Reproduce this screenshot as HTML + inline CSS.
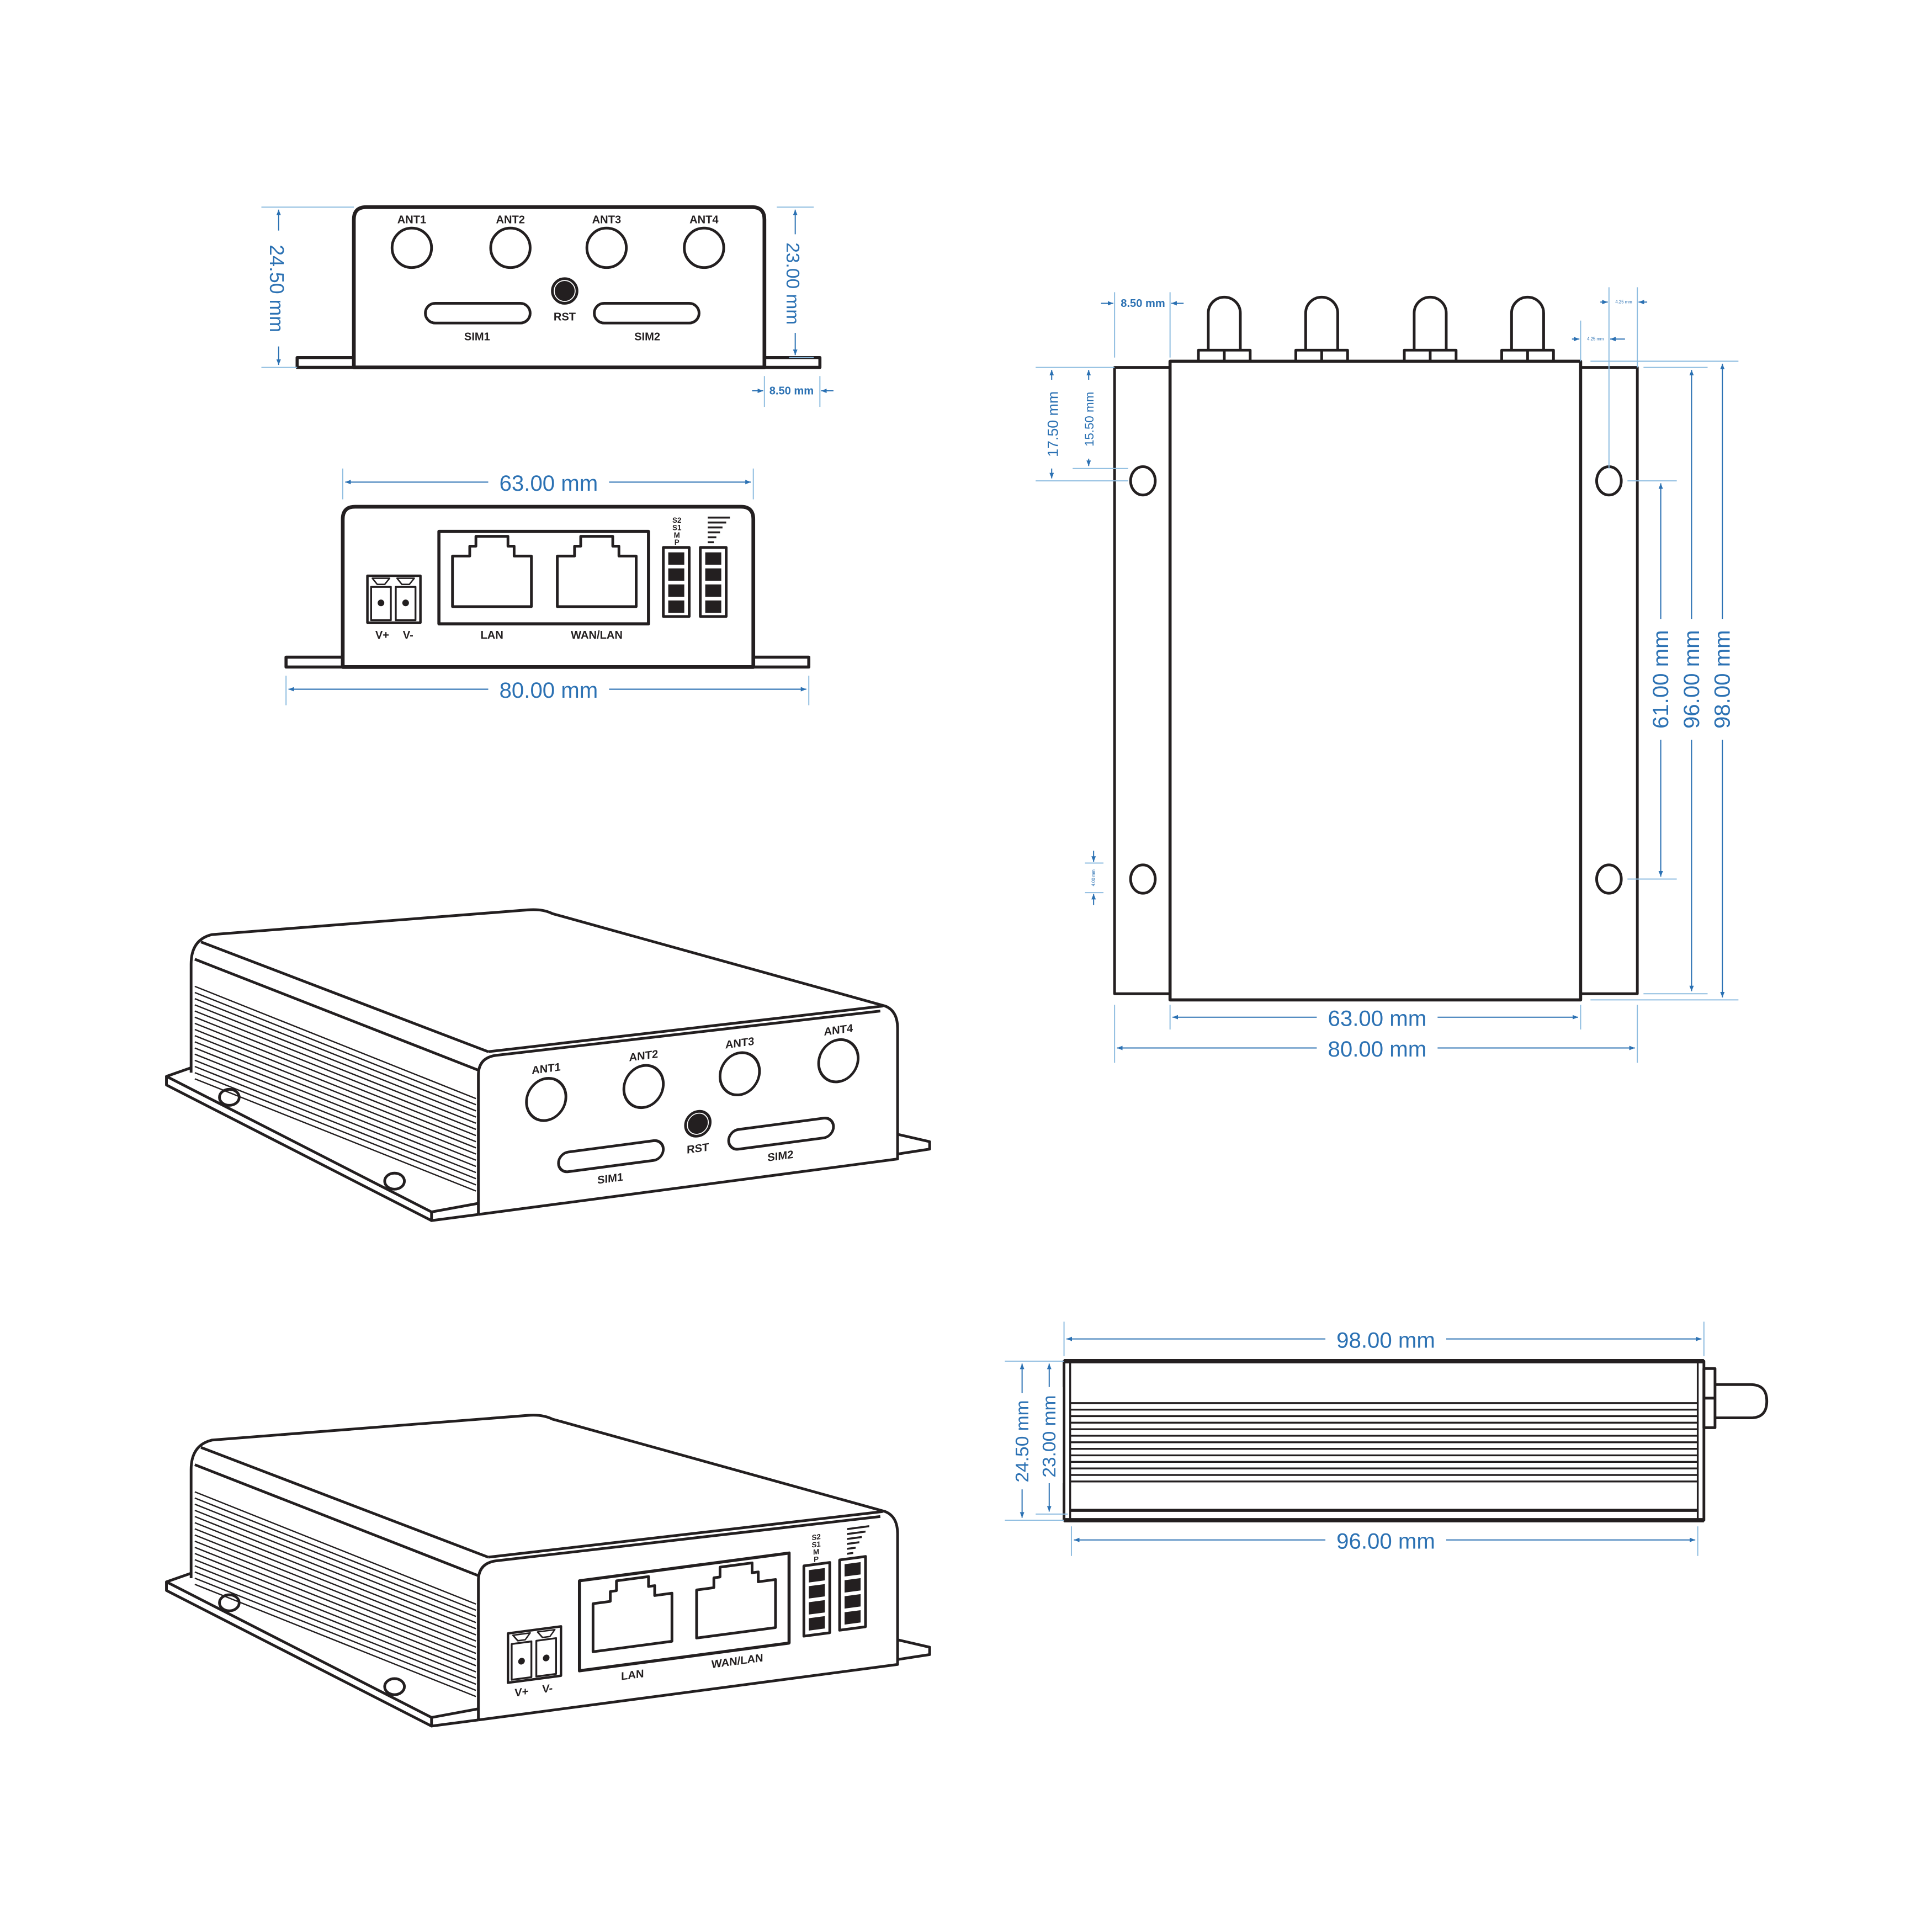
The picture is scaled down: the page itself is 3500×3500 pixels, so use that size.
<!DOCTYPE html>
<html><head><meta charset="utf-8"><style>html,body{margin:0;padding:0;background:#fff}svg{display:block}</style></head>
<body>
<svg xmlns="http://www.w3.org/2000/svg" width="3500" height="3500" viewBox="0 0 1567 1567">
<defs>
<marker id="a" viewBox="0 0 10 10" refX="10" refY="5" markerWidth="5" markerHeight="5" orient="auto-start-reverse"><path d="M0,1 L10,5 L0,9 Z" fill="#2b71b3"/></marker>
</defs>
<rect width="1567" height="1567" fill="#fff"/>
<g fill="none" stroke="#231f20" stroke-width="2.2" stroke-linejoin="round">
<path d="M287,298 L287,178 Q287,168 297,168 L610,168 Q620,168 620,178 L620,298 Z" stroke-width="3"/>
<rect x="241" y="290" width="46" height="8" stroke-width="2.5"/>
<rect x="620" y="290" width="45" height="8" stroke-width="2.5"/>
<ellipse cx="334" cy="201" rx="16" ry="16"/><ellipse cx="414" cy="201" rx="16" ry="16"/>
<ellipse cx="492" cy="201" rx="16" ry="16"/><ellipse cx="571" cy="201" rx="16" ry="16"/>
<circle cx="458" cy="236" r="10"/><circle cx="458" cy="236" r="7" fill="#231f20"/>
<rect x="345" y="246" width="85" height="16" rx="8"/>
<rect x="482" y="246" width="85" height="16" rx="8"/>

<path d="M278,541 L278,421 Q278,411 288,411 L601,411 Q611,411 611,421 L611,541 Z" stroke-width="3"/>
<rect x="232" y="533" width="46" height="8" stroke-width="2.5"/>
<rect x="611" y="533" width="45" height="8" stroke-width="2.5"/>
<rect x="298" y="467" width="43" height="38" stroke-width="2"/>
<rect x="301" y="476" width="16" height="27" stroke-width="1.5"/><rect x="321" y="476" width="16" height="27" stroke-width="1.5"/>
<path d="M302,469 L316,469 L312,474 L306,474 Z M322,469 L336,469 L332,474 L326,474 Z" stroke-width="1.2"/>
<circle cx="309" cy="489" r="1.6" fill="#231f20"/><circle cx="329" cy="489" r="1.6" fill="#231f20"/>
<rect x="356" y="431" width="170" height="75" stroke-width="2.5"/>
<path d="M367,492 L367,451 L381,451 L381,443 L386,443 L386,435 L412,435 L412,443 L417,443 L417,451 L431,451 L431,492 Z"/>
<path d="M452,492 L452,451 L466,451 L466,443 L471,443 L471,435 L497,435 L497,443 L502,443 L502,451 L516,451 L516,492 Z"/>
<rect x="538" y="444" width="21" height="56" stroke-width="2.2"/>
<rect x="568" y="444" width="21" height="56" stroke-width="2.2"/>
<g fill="#231f20" stroke="none">
<rect x="542" y="448" width="13" height="10"/><rect x="542" y="461" width="13" height="10"/><rect x="542" y="474" width="13" height="10"/><rect x="542" y="487" width="13" height="10"/>
<rect x="572" y="448" width="13" height="10"/><rect x="572" y="461" width="13" height="10"/><rect x="572" y="474" width="13" height="10"/><rect x="572" y="487" width="13" height="10"/>
<rect x="574" y="419" width="18" height="1.6"/><rect x="574" y="423" width="15" height="1.6"/><rect x="574" y="427" width="12" height="1.6"/><rect x="574" y="431" width="10" height="1.6"/><rect x="574" y="435" width="7" height="1.6"/><rect x="574" y="439" width="5" height="1.6"/>
</g>

<rect x="904" y="298" width="45" height="508"/>
<rect x="1282" y="298" width="46" height="508"/>
<rect x="949" y="293" width="333" height="518" stroke-width="2.5"/>
<ellipse cx="927" cy="390" rx="10" ry="11.5"/><ellipse cx="927" cy="713" rx="10" ry="11.5"/>
<ellipse cx="1305" cy="390" rx="10" ry="11.5"/><ellipse cx="1305" cy="713" rx="10" ry="11.5"/>
<g id="ant">
<path d="M980,284 L980,254 A13,13 0 0 1 1006,254 L1006,284"/>
<rect x="972" y="284" width="42" height="9"/><line x1="993" y1="284" x2="993" y2="293"/>
</g>
<use href="#ant" transform="translate(79,0)"/>
<use href="#ant" transform="translate(167,0)"/>
<use href="#ant" transform="translate(246,0)"/>

<rect x="863" y="1104" width="519" height="129" stroke-width="2.2"/>
<line x1="863" y1="1104" x2="1382" y2="1104" stroke-width="3.5"/>
<line x1="863" y1="1233" x2="1382" y2="1233" stroke-width="3.5"/>
<line x1="868" y1="1104" x2="868" y2="1233" stroke-width="1.5"/>
<line x1="1377" y1="1104" x2="1377" y2="1233" stroke-width="1.5"/>
<g stroke-width="1.5">
<line x1="868" y1="1138" x2="1377" y2="1138"/><line x1="868" y1="1143.3" x2="1377" y2="1143.3"/><line x1="868" y1="1148.6" x2="1377" y2="1148.6"/><line x1="868" y1="1153.9" x2="1377" y2="1153.9"/><line x1="868" y1="1159.2" x2="1377" y2="1159.2"/><line x1="868" y1="1164.5" x2="1377" y2="1164.5"/><line x1="868" y1="1169.8" x2="1377" y2="1169.8"/><line x1="868" y1="1175.1" x2="1377" y2="1175.1"/><line x1="868" y1="1180.4" x2="1377" y2="1180.4"/><line x1="868" y1="1185.7" x2="1377" y2="1185.7"/><line x1="868" y1="1191" x2="1377" y2="1191"/><line x1="868" y1="1196.3" x2="1377" y2="1196.3"/><line x1="868" y1="1201.6" x2="1377" y2="1201.6"/>
</g>
<line x1="868" y1="1225" x2="1377" y2="1225" stroke-width="2.5"/>
<rect x="1382" y="1110" width="9" height="48"/><line x1="1382" y1="1134" x2="1391" y2="1134"/>
<path d="M1391,1123 L1420,1123 Q1433,1123 1433,1136.5 Q1433,1150 1420,1150 L1391,1150"/>

<g id="isobody">
<path d="M155,870 L155,782 Q155,762 172,758 L428,738 Q440,737 448,741 L718,816 Q728,820 728,834 L728,940 L388,985"/>
<path d="M388,985 L388,872 Q388,858 402,856 L714,820"/>
<line x1="396" y1="853" x2="716" y2="816"/>
<line x1="163" y1="764" x2="396" y2="853"/>
<line x1="158" y1="778" x2="388" y2="868"/>
<g stroke-width="1.1">
<line x1="158" y1="800" x2="386" y2="891"/><line x1="158" y1="805" x2="386" y2="896"/><line x1="158" y1="810" x2="386" y2="901"/><line x1="158" y1="815" x2="386" y2="906"/><line x1="158" y1="820" x2="386" y2="911"/><line x1="158" y1="825" x2="386" y2="916"/><line x1="158" y1="830" x2="386" y2="921"/><line x1="158" y1="835" x2="386" y2="926"/><line x1="158" y1="840" x2="386" y2="931"/><line x1="158" y1="845" x2="386" y2="936"/><line x1="158" y1="850" x2="386" y2="941"/><line x1="158" y1="855" x2="386" y2="946"/><line x1="158" y1="860" x2="386" y2="951"/><line x1="158" y1="865" x2="386" y2="956"/><line x1="158" y1="870" x2="386" y2="961"/><line x1="158" y1="875" x2="386" y2="966"/>
</g>
<path d="M155,866 L135,873 L350,983 L388,976"/>
<path d="M135,873 L135,880 L350,990 L388,985"/>
<line x1="350" y1="983" x2="350" y2="990"/>
<path d="M728,920 L754,926 L754,932 L728,936"/>
<ellipse cx="186" cy="890" rx="8" ry="6.5"/>
<ellipse cx="320" cy="958" rx="8" ry="6.5"/>
</g>
<use href="#isobody" transform="translate(0,410)"/>

<g transform="translate(388,0) skewY(-7.54)">
<ellipse cx="55" cy="899" rx="16" ry="17"/><ellipse cx="134" cy="899" rx="16" ry="17"/>
<ellipse cx="212" cy="899" rx="16" ry="17"/><ellipse cx="292" cy="899" rx="16" ry="17"/>
<circle cx="178" cy="935" r="10"/><circle cx="178" cy="935" r="7" fill="#231f20"/>
<rect x="65" y="944" width="85" height="16" rx="8"/>
<rect x="203" y="944" width="85" height="16" rx="8"/>
</g>
<g transform="translate(388,410) skewY(-7.54)">
<rect x="24" y="918" width="43" height="40" stroke-width="2"/>
<rect x="27" y="927" width="16" height="29" stroke-width="1.5"/><rect x="47" y="927" width="16" height="29" stroke-width="1.5"/>
<path d="M28,920 L42,920 L38,925 L32,925 Z M48,920 L62,920 L58,925 L52,925 Z" stroke-width="1.2"/>
<circle cx="35" cy="942" r="1.6" fill="#231f20"/><circle cx="55" cy="942" r="1.6" fill="#231f20"/>
<rect x="82" y="883" width="170" height="73" stroke-width="2.5"/>
<path d="M93,942 L93,903 L107,903 L107,895 L112,895 L112,887 L138,887 L138,895 L143,895 L143,903 L157,903 L157,942 Z"/>
<path d="M177,942 L177,903 L191,903 L191,895 L196,895 L196,887 L222,887 L222,895 L227,895 L227,903 L241,903 L241,942 Z"/>
<rect x="264" y="895" width="21" height="57"/>
<rect x="293" y="894" width="21" height="57"/>
<g fill="#231f20" stroke="none">
<rect x="268" y="899" width="13" height="10"/><rect x="268" y="912" width="13" height="10"/><rect x="268" y="925" width="13" height="10"/><rect x="268" y="938" width="13" height="10"/>
<rect x="297" y="898" width="13" height="10"/><rect x="297" y="911" width="13" height="10"/><rect x="297" y="924" width="13" height="10"/><rect x="297" y="937" width="13" height="10"/>
<rect x="299" y="869" width="18" height="1.6"/><rect x="299" y="873" width="15" height="1.6"/><rect x="299" y="877" width="12" height="1.6"/><rect x="299" y="881" width="10" height="1.6"/><rect x="299" y="885" width="7" height="1.6"/><rect x="299" y="889" width="5" height="1.6"/>
</g>
</g>
</g>

<g font-family="Liberation Sans, sans-serif" font-weight="bold" fill="#231f20" text-anchor="middle" font-size="9">
<text x="334" y="181">ANT1</text><text x="414" y="181">ANT2</text><text x="492" y="181">ANT3</text><text x="571" y="181">ANT4</text>
<text x="458" y="260">RST</text><text x="387" y="276">SIM1</text><text x="525" y="276">SIM2</text>
<text x="310" y="518">V+</text><text x="331" y="518">V-</text>
<text x="399" y="518">LAN</text><text x="484" y="518">WAN/LAN</text>
<g font-size="6"><text x="549" y="424">S2</text><text x="549" y="430">S1</text><text x="549" y="436">M</text><text x="549" y="442">P</text></g>
<g transform="translate(388,0) skewY(-7.54)">
<text x="55" y="877">ANT1</text><text x="134" y="877">ANT2</text><text x="212" y="877">ANT3</text><text x="292" y="877">ANT4</text>
<text x="178" y="958">RST</text><text x="107" y="973">SIM1</text><text x="245" y="973">SIM2</text>
</g>
<g transform="translate(388,410) skewY(-7.54)">
<text x="35" y="970">V+</text><text x="56" y="970">V-</text>
<text x="125" y="968">LAN</text><text x="210" y="968">WAN/LAN</text>
<g font-size="6"><text x="274" y="875">S2</text><text x="274" y="881">S1</text><text x="274" y="887">M</text><text x="274" y="893">P</text></g>
</g>
</g>

<g stroke="#8fbde0" stroke-width="0.9" fill="none">
<line x1="212" y1="168" x2="287" y2="168"/><line x1="212" y1="298" x2="241" y2="298"/>
<line x1="630" y1="168" x2="660" y2="168"/><line x1="640" y1="290" x2="660" y2="290"/>
<line x1="620" y1="305" x2="620" y2="330"/><line x1="665" y1="305" x2="665" y2="330"/>
<line x1="278" y1="380" x2="278" y2="405"/><line x1="611" y1="380" x2="611" y2="405"/>
<line x1="232" y1="548" x2="232" y2="572"/><line x1="656" y1="548" x2="656" y2="572"/>
<line x1="904" y1="237" x2="904" y2="290"/><line x1="949" y1="237" x2="949" y2="290"/>
<line x1="1305" y1="233" x2="1305" y2="380"/><line x1="1328" y1="233" x2="1328" y2="298"/>
<line x1="1282" y1="260" x2="1282" y2="293"/>
<line x1="840" y1="298" x2="904" y2="298"/><line x1="840" y1="390" x2="915" y2="390"/><line x1="870" y1="380" x2="915" y2="380"/>
<line x1="1320" y1="390" x2="1360" y2="390"/><line x1="1320" y1="713" x2="1360" y2="713"/>
<line x1="1333" y1="298" x2="1385" y2="298"/><line x1="1333" y1="806" x2="1385" y2="806"/>
<line x1="1290" y1="293" x2="1410" y2="293"/><line x1="1290" y1="811" x2="1410" y2="811"/>
<line x1="949" y1="815" x2="949" y2="835"/><line x1="1282" y1="815" x2="1282" y2="835"/>
<line x1="904" y1="815" x2="904" y2="862"/><line x1="1328" y1="815" x2="1328" y2="862"/>
<line x1="880" y1="700" x2="895" y2="700"/><line x1="880" y1="724" x2="895" y2="724"/>
<line x1="863" y1="1072" x2="863" y2="1100"/><line x1="1382" y1="1072" x2="1382" y2="1100"/>
<line x1="869" y1="1238" x2="869" y2="1262"/><line x1="1377" y1="1238" x2="1377" y2="1262"/>
<line x1="815" y1="1104" x2="863" y2="1104"/><line x1="815" y1="1233" x2="863" y2="1233"/><line x1="840" y1="1228" x2="866" y2="1228"/>
</g>
<g stroke="#2b71b3" stroke-width="0.9" fill="none" marker-start="url(#a)" marker-end="url(#a)">
<line x1="226" y1="170" x2="226" y2="296"/>
<line x1="645" y1="170" x2="645" y2="288"/>
<line x1="280" y1="391" x2="609" y2="391"/>
<line x1="234" y1="559" x2="654" y2="559"/>
<line x1="853" y1="300" x2="853" y2="388"/>
<line x1="883" y1="300" x2="883" y2="378"/>
<line x1="1347" y1="392" x2="1347" y2="711"/>
<line x1="1372" y1="300" x2="1372" y2="804"/>
<line x1="1397" y1="295" x2="1397" y2="809"/>
<line x1="951" y1="825" x2="1280" y2="825"/>
<line x1="906" y1="850" x2="1326" y2="850"/>
<line x1="865" y1="1086" x2="1380" y2="1086"/>
<line x1="871" y1="1249" x2="1375" y2="1249"/>
<line x1="829" y1="1106" x2="829" y2="1231"/>
<line x1="851" y1="1106" x2="851" y2="1226"/>
</g>
<g stroke="#2b71b3" stroke-width="0.9" fill="none" marker-end="url(#a)">
<line x1="610" y1="317" x2="619" y2="317"/><line x1="676" y1="317" x2="666" y2="317"/>
<line x1="893" y1="246" x2="903" y2="246"/><line x1="960" y1="246" x2="950" y2="246"/>
<line x1="1298" y1="245" x2="1304" y2="245"/><line x1="1336" y1="245" x2="1329" y2="245"/>
<line x1="1275" y1="275" x2="1281" y2="275"/><line x1="1318" y1="275" x2="1306" y2="275"/>
<line x1="887" y1="690" x2="887" y2="699"/><line x1="887" y1="734" x2="887" y2="725"/>
</g>
<g fill="#fff">
<rect x="396" y="380" width="98" height="22"/><rect x="396" y="548" width="98" height="22"/>
<rect x="1068" y="814" width="98" height="22"/><rect x="1068" y="839" width="98" height="22"/>
<rect x="1075" y="1075" width="98" height="22"/><rect x="1075" y="1238" width="98" height="22"/>
<rect x="215" y="187" width="22" height="94"/><rect x="634" y="190" width="22" height="80"/>
<rect x="842" y="308" width="22" height="72"/><rect x="875" y="308" width="16" height="64"/>
<rect x="1336" y="502" width="22" height="98"/><rect x="1361" y="502" width="22" height="98"/><rect x="1386" y="502" width="22" height="98"/>
<rect x="818" y="1130" width="22" height="78"/><rect x="840" y="1125" width="22" height="78"/>
</g>
<g font-family="Liberation Sans, sans-serif" fill="#2b71b3" text-anchor="middle">
<g font-size="18">
<text x="445" y="398">63.00 mm</text><text x="445" y="566">80.00 mm</text>
<text x="1117" y="832">63.00 mm</text><text x="1117" y="857">80.00 mm</text>
<text x="1124" y="1093">98.00 mm</text><text x="1124" y="1256">96.00 mm</text>
</g>
<text font-size="16" transform="translate(219,234) rotate(90)">24.50 mm</text>
<text font-size="15" transform="translate(638,230) rotate(90)">23.00 mm</text>
<text font-size="12" transform="translate(858,344) rotate(-90)">17.50 mm</text>
<text font-size="10" transform="translate(887,340) rotate(-90)">15.50 mm</text>
<text font-size="18" transform="translate(1353,551) rotate(-90)">61.00 mm</text>
<text font-size="18" transform="translate(1378,551) rotate(-90)">96.00 mm</text>
<text font-size="18" transform="translate(1403,551) rotate(-90)">98.00 mm</text>
<text font-size="15" transform="translate(834,1169) rotate(-90)">24.50 mm</text>
<text font-size="15" transform="translate(856,1165) rotate(-90)">23.00 mm</text>
<g font-weight="bold" font-size="9">
<text x="642" y="320">8.50 mm</text><text x="927" y="249">8.50 mm</text>
</g>
<g font-size="3.5"><text x="1317" y="246">4.25 mm</text><text x="1294" y="276">4.25 mm</text></g>
<text font-size="3.5" transform="translate(888,712) rotate(-90)">4.00 mm</text>
</g>
</svg>
</body></html>
